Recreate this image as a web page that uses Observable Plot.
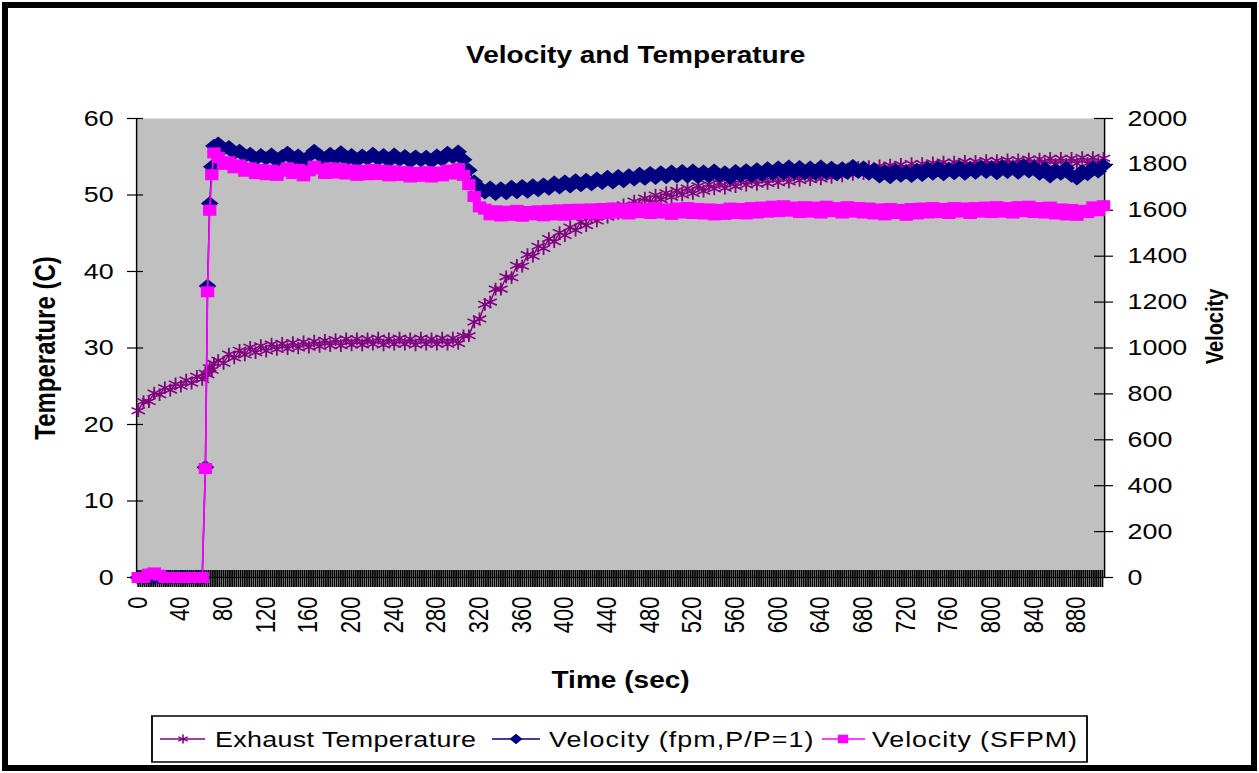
<!DOCTYPE html>
<html><head><meta charset="utf-8">
<script src="https://cdn.jsdelivr.net/npm/d3@7"></script>
<script src="https://cdn.jsdelivr.net/npm/@observablehq/plot@0.6"></script>
<style>
html,body{margin:0;padding:0;background:#fff;}
#wrap{position:relative;width:1259px;height:773px;overflow:hidden;background:#fff;font-family:"Liberation Sans",Arial,sans-serif;}
#border{position:absolute;left:2px;top:2px;width:1255px;height:769px;border:6px solid #000;box-sizing:border-box;}
#stretch{position:absolute;left:0;top:0;width:1032px;height:773px;transform:scaleX(1.22);transform-origin:0 0;}
#chart{position:absolute;left:0;top:0;}
#legend{position:absolute;left:0;top:700px;}
</style></head>
<body>
<div id="wrap"><div id="stretch"><div id="chart"></div><svg id="legend"></svg></div><div id="border"></div></div>
<script>
// ---- data ----
const timeEarly = d3.range(0, 61, 5);          // sampling grid, s
const timeRise = [63, 65, 67, 69, 71];
const timeMain = d3.range(75, 906, 5);

const tempEarly = [21.8, 23.0, 23.0, 24.1, 23.9, 24.8, 24.5, 25.3, 25.0, 25.8, 25.4, 26.3, 25.9];
const tempRise = [26.7, 26.5, 27.4, 27.1, 28.0];
const tempMain = [
  28.4, 28.0, 29.2, 28.7, 29.7, 29.1, 30.1, 29.4, 30.3, 29.6,
  30.5, 29.8, 30.6, 29.9, 30.7, 30.0, 30.8, 30.1, 30.9, 30.2,
  31.0, 30.3, 31.1, 30.3, 31.2, 30.4, 31.2, 30.4, 31.2, 30.5,
  31.3, 30.4, 31.2, 30.5, 31.3, 30.5, 31.2, 30.4, 31.3, 30.5,
  31.2, 30.5, 31.3, 30.5, 31.3, 30.6, 31.6, 31.6, 33.4, 33.8,
  35.7, 36.0, 37.7, 37.7, 39.3, 39.2, 40.8, 40.7, 42.2, 42.0,
  43.3, 43.0, 44.3, 43.9, 45.1, 44.7, 45.8, 45.4, 46.5, 46.0,
  47.1, 46.6, 47.6, 47.1, 48.2, 47.6, 48.7, 48.1, 49.2, 48.6,
  49.6, 49.0, 50.0, 49.4, 50.3, 49.7, 50.6, 50.0, 50.9, 50.2,
  51.2, 50.5, 51.4, 50.8, 51.6, 50.9, 51.8, 51.1, 52.0, 51.3,
  52.1, 51.4, 52.3, 51.5, 52.4, 51.6, 52.5, 51.7, 52.6, 51.9,
  52.7, 52.0, 52.9, 52.1, 53.0, 52.3, 53.2, 52.5, 53.4, 52.7,
  53.6, 52.8, 53.7, 53.0, 53.8, 53.0, 53.9, 53.2, 54.0, 53.2,
  54.1, 53.3, 54.1, 53.4, 54.2, 53.4, 54.3, 53.5, 54.3, 53.6,
  54.4, 53.6, 54.4, 53.7, 54.5, 53.7, 54.5, 53.8, 54.6, 53.8,
  54.6, 53.9, 54.7, 53.9, 54.7, 54.0, 54.8, 54.0, 54.8, 54.0,
  54.8, 54.1, 54.9, 54.1, 54.9, 54.1, 54.8
];

const fpmEarly = [0, 0, 0, 0, 0, 0, 0, 0, 0, 0, 0, 0, 0];
const fpmRise = [480, 1270, 1630, 1790, 1880];
const fpmMain = [
  1890, 1868, 1875, 1850, 1858, 1836, 1845, 1822, 1840, 1826,
  1842, 1815, 1836, 1850, 1822, 1838, 1812, 1835, 1858, 1840,
  1822, 1845, 1826, 1852, 1820, 1840, 1815, 1838, 1824, 1845,
  1822, 1840, 1815, 1842, 1820, 1836, 1812, 1834, 1818, 1832,
  1812, 1838, 1820, 1850, 1832, 1855, 1820, 1775, 1725, 1700,
  1678, 1698, 1672, 1695, 1675, 1702, 1680, 1705, 1682, 1708,
  1688, 1712, 1695, 1720, 1700, 1725, 1705, 1730, 1710, 1732,
  1714, 1738, 1720, 1745, 1722, 1748, 1728, 1752, 1735, 1758,
  1738, 1762, 1742, 1765, 1745, 1768, 1748, 1770, 1748, 1772,
  1745, 1768, 1748, 1772, 1750, 1765, 1742, 1770, 1752, 1774,
  1750, 1778, 1756, 1782, 1760, 1785, 1762, 1790, 1765, 1788,
  1762, 1785, 1760, 1790, 1765, 1784, 1758, 1782, 1765, 1792,
  1768, 1786, 1760, 1778, 1748, 1770, 1745, 1775, 1752, 1768,
  1750, 1776, 1755, 1782, 1760, 1786, 1758, 1780, 1762, 1788,
  1760, 1782, 1765, 1790, 1768, 1785, 1762, 1792, 1768, 1786,
  1765, 1795, 1770, 1788, 1760, 1782, 1748, 1775, 1760, 1784,
  1752, 1740, 1770, 1758, 1785, 1770, 1795
];

const sfpmEarly = [0, 0, 15, 20, 10, 0, 0, 0, 0, 0, 0, 0, 0];
const sfpmRise = [475, 1245, 1600, 1755, 1850];
const sfpmMain = [
  1830, 1800, 1812, 1785, 1798, 1770, 1785, 1760, 1778, 1755,
  1775, 1752, 1770, 1785, 1760, 1778, 1750, 1772, 1792, 1780,
  1760, 1785, 1762, 1782, 1758, 1776, 1752, 1774, 1755, 1778,
  1756, 1774, 1750, 1772, 1752, 1768, 1745, 1765, 1748, 1768,
  1745, 1766, 1750, 1775, 1758, 1782, 1752, 1712, 1660, 1615,
  1605, 1580, 1598, 1575, 1596, 1578, 1600, 1574, 1595, 1580,
  1598, 1576, 1600, 1580, 1602, 1578, 1604, 1582, 1605, 1585,
  1606, 1584, 1608, 1586, 1610, 1588, 1606, 1584, 1610, 1590,
  1608, 1586, 1612, 1588, 1606, 1582, 1610, 1588, 1612, 1586,
  1608, 1584, 1606, 1580, 1604, 1582, 1610, 1586, 1608, 1584,
  1612, 1588, 1614, 1592, 1618, 1594, 1620, 1596, 1614, 1590,
  1616, 1592, 1614, 1588, 1618, 1594, 1612, 1588, 1616, 1592,
  1612, 1588, 1610, 1584, 1606, 1580, 1608, 1586, 1604, 1578,
  1608, 1584, 1610, 1588, 1612, 1590, 1608, 1586, 1612, 1592,
  1610, 1586, 1612, 1592, 1614, 1590, 1616, 1592, 1612, 1588,
  1616, 1594, 1618, 1590, 1612, 1588, 1614, 1584, 1606, 1580,
  1604, 1578, 1600, 1590, 1615, 1598, 1620
];

const tempTicks = [0, 10, 20, 30, 40, 50, 60];
const velTicks = [0, 200, 400, 600, 800, 1000, 1200, 1400, 1600, 1800, 2000];
const timeLabels = [0, 40, 80, 120, 160, 200, 240, 280, 320, 360, 400, 440, 480, 520, 560, 600, 640, 680, 720, 760, 800, 840, 880];

const seriesNames = ["Exhaust Temperature", "Velocity (fpm,P/P=1)", "Velocity (SFPM)"];
const seriesColors = ["#800080", "#000080", "#ff00ff"];

// ---- layout ----
const S = 1.22;                 // horizontal stretch of the reference raster
const W0 = 1259 / S;
const px = v => v / S;
const plotLeft = px(136), plotRight = px(1104), plotTop = 118, plotBottom = 577;
const xDomain = [-1.5, 906];
const secPx = (plotRight - plotLeft) / (xDomain[1] - xDomain[0]) * S; // reference px per second
const yPx = (plotBottom - plotTop) / 60;
const k = 60 / 2000;

const time = [...timeEarly, ...timeRise, ...timeMain];
const temperature = [...tempEarly, ...tempRise, ...tempMain];
const fpm = [...fpmEarly, ...fpmRise, ...fpmMain];
const sfpm = [...sfpmEarly, ...sfpmRise, ...sfpmMain];
const n = Math.min(time.length, temperature.length, fpm.length, sfpm.length);
const rows = d3.range(n).map(i => ({t: time[i], temp: temperature[i], fpm: fpm[i] * k, sfpm: sfpm[i] * k}));
const categoryTicks = d3.range(0, 906, 2);

const font = '"Liberation Sans", Arial, sans-serif';
const midX = (plotLeft + plotRight) / 2;

const chart = Plot.plot({
  width: W0, height: 773,
  marginLeft: plotLeft, marginRight: W0 - plotRight, marginTop: plotTop, marginBottom: 773 - plotBottom,
  x: {domain: xDomain},
  y: {domain: [0, 60]},
  style: {fontFamily: font, background: "transparent", color: "#000", overflow: "visible"},
  marks: [
    Plot.frame({fill: "#c0c0c0", stroke: "none"}),
    Plot.ruleX(categoryTicks, {x: d => d, y1: 7 / yPx, y2: -10 / yPx, stroke: "#000", strokeWidth: 1.45}),
    Plot.ruleY([0], {stroke: "#000", strokeWidth: 1.2}),
    Plot.ruleX([xDomain[0], xDomain[1]], {y1: 0, y2: 60, stroke: "#000", strokeWidth: 1.2}),
    Plot.ruleY(tempTicks, {y: d => d, x1: xDomain[0] - 9 / secPx, x2: xDomain[0] + 7 / secPx, stroke: "#000", strokeWidth: 1.2}),
    Plot.ruleY(velTicks.map(v => v * k), {y: d => d, x1: xDomain[1] - 10 / secPx, x2: xDomain[1] + 9 / secPx, stroke: "#000", strokeWidth: 1.2}),
    Plot.line(rows, {x: "t", y: "temp", stroke: seriesColors[0], strokeWidth: 1.2}),
    Plot.dot(rows, {x: "t", y: "temp", symbol: "asterisk", r: 6, stroke: seriesColors[0], strokeWidth: 1.5}),
    Plot.line(rows, {x: "t", y: "fpm", stroke: seriesColors[1], strokeWidth: 1.2}),
    Plot.dot(rows, {x: "t", y: "fpm", symbol: "diamond2", r: 6.5, fill: seriesColors[1], stroke: "none"}),
    Plot.line(rows, {x: "t", y: "sfpm", stroke: seriesColors[2], strokeWidth: 1.4}),
    Plot.dot(rows, {x: "t", y: "sfpm", symbol: "square", r: 6.2, fill: seriesColors[2], stroke: "none"}),
    Plot.axisY({ticks: tempTicks, anchor: "left", tickSize: 0, tickPadding: px(23), fontSize: 22, label: null}),
    Plot.axisY({ticks: velTicks.map(v => v * k), anchor: "right", tickSize: 0, tickPadding: px(23), fontSize: 22, label: null, tickFormat: d => String(Math.round(d / k))}),
    Plot.axisX({ticks: timeLabels, anchor: "bottom", tickSize: 0, tickPadding: 19, tickRotate: -90, fontSize: 22, label: null}),
    Plot.text(["Velocity and Temperature"], {text: d => d, frameAnchor: "top", dx: px(635) - midX, dy: -63, fontSize: 23, fontWeight: "bold", textAnchor: "middle", lineAnchor: "middle"}),
    Plot.text(["Temperature (C)"], {text: d => d, frameAnchor: "left", dx: px(45) - plotLeft, rotate: -90, fontSize: 24, fontWeight: "bold", textAnchor: "middle", lineAnchor: "middle"}),
    Plot.text(["Velocity"], {text: d => d, frameAnchor: "right", dx: px(1215) - plotRight, dy: 326 - (plotTop + plotBottom) / 2, rotate: -90, fontSize: 20, fontWeight: "bold", textAnchor: "middle", lineAnchor: "middle"}),
    Plot.text(["Time (sec)"], {text: d => d, frameAnchor: "bottom", dx: px(620) - midX, dy: 103, fontSize: 23, fontWeight: "bold", textAnchor: "middle", lineAnchor: "middle"})
  ]
});
document.getElementById("chart").appendChild(chart);

// ---- legend ----
const lg = d3.select("#legend").attr("width", W0).attr("height", 73).style("font-family", font);
lg.append("rect").attr("x", px(152)).attr("y", 16).attr("width", px(1087) - px(152)).attr("height", 46)
  .attr("fill", "#fff").attr("stroke", "#000").attr("stroke-width", 1.5);
const cy = 39;
const items = [
  {l1: 160, l2: 205, m: 183, tx: 215, sym: d3.symbolAsterisk, r: 4.2, fill: "none", ls: 0.3},
  {l1: 492, l2: 540, m: 516, tx: 549, sym: d3.symbolDiamond2, r: 4.8, fill: seriesColors[1], ls: 0.9},
  {l1: 822, l2: 865, m: 843, tx: 872, sym: d3.symbolSquare, r: 4.8, fill: seriesColors[2], ls: 0.75}
];
items.forEach((it, i) => {
  const c = seriesColors[i];
  lg.append("line").attr("x1", px(it.l1)).attr("x2", px(it.l2)).attr("y1", cy).attr("y2", cy).attr("stroke", c).attr("stroke-width", 1.3);
  lg.append("path").attr("transform", `translate(${px(it.m)},${cy})`)
    .attr("d", d3.symbol(it.sym, Math.PI * it.r * it.r)())
    .attr("fill", it.fill).attr("stroke", i === 0 ? c : "none").attr("stroke-width", 1.3);
  lg.append("text").attr("x", px(it.tx)).attr("y", cy).attr("dy", "0.35em").attr("font-size", 22)
    .attr("letter-spacing", it.ls).attr("fill", "#000").text(seriesNames[i]);
});
</script>
</body></html>
